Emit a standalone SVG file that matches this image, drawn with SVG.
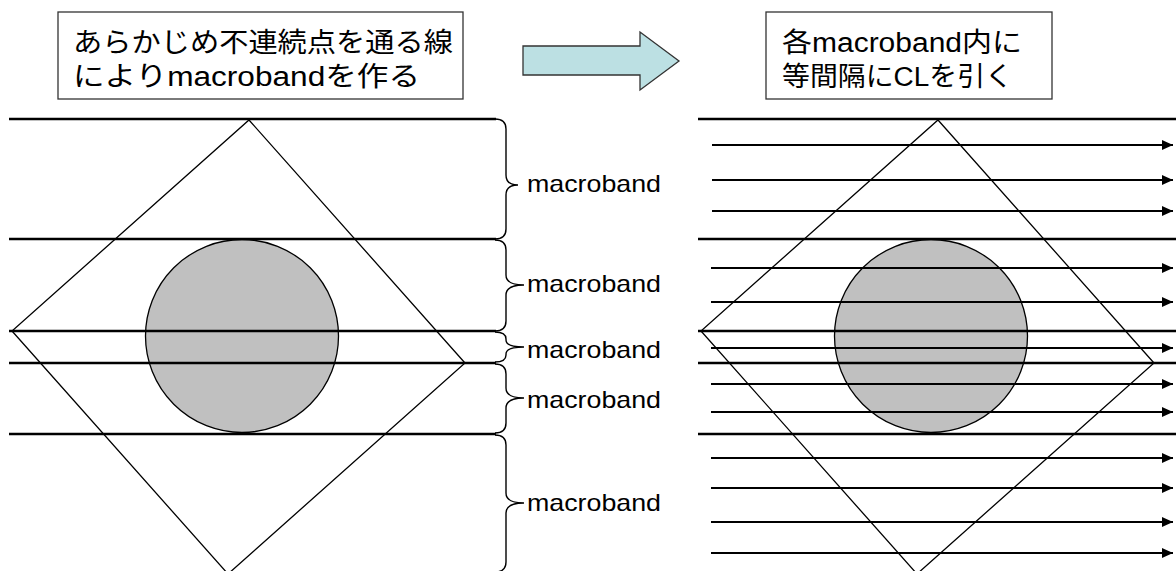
<svg xmlns="http://www.w3.org/2000/svg" width="1176" height="571" viewBox="0 0 1176 571">
<style>
.box{fill:#fff;stroke:#333;stroke-width:1.3}
.jp{font-family:"Liberation Sans","Noto Sans CJK JP",sans-serif;font-size:27px;fill:#000}
.lbl{font-family:"Liberation Sans",Arial,sans-serif;font-size:24px;fill:#000}
.band{stroke:#000;stroke-width:2.6;fill:none}
.dia{fill:none;stroke:#000;stroke-width:1.3}
.circ{fill:#c0c0c0;stroke:#000;stroke-width:1.3}
.brace{fill:none;stroke:#000;stroke-width:1.4}
.cl{stroke:#000;stroke-width:2;fill:none;marker-end:url(#ah)}
</style>
<defs>
<marker id="ah" markerUnits="userSpaceOnUse" markerWidth="12" markerHeight="12" refX="11" refY="5" orient="auto">
<path d="M0,0 L11,5 L0,10 Z" fill="#000"/>
</marker>
</defs>
<rect width="1176" height="571" fill="#fff"/>

<g id="box-left">
<rect class="box" x="58" y="12" width="405" height="87"/>
<text class="jp" x="73" y="52" textLength="380" lengthAdjust="spacingAndGlyphs">あらかじめ不連続点を通る線</text>
<text class="jp" x="73" y="86" textLength="347" lengthAdjust="spacingAndGlyphs">によりmacrobandを作る</text>
</g>

<g id="big-arrow">
<polygon points="523,46 640,46 640,32 679,61 640,90 640,75 523,75" fill="#bce0e3" stroke="#333" stroke-width="1.3"/>
</g>

<g id="box-right">
<rect class="box" x="766" y="12" width="286" height="87"/>
<text class="jp" x="782" y="52" textLength="240" lengthAdjust="spacingAndGlyphs">各macroband内に</text>
<text class="jp" x="782" y="86" textLength="231" lengthAdjust="spacingAndGlyphs">等間隔にCLを引く</text>
</g>

<g id="left-panel">
<circle class="circ" cx="242" cy="336" r="96.5"/>
<polygon class="dia" points="249,120 465,363 228,574 12,331"/>
<line class="band" x1="9" y1="119" x2="496" y2="119"/>
<line class="band" x1="9" y1="239" x2="496" y2="239"/>
<line class="band" x1="9" y1="331" x2="496" y2="331"/>
<line class="band" x1="9" y1="363" x2="496" y2="363"/>
<line class="band" x1="9" y1="434" x2="496" y2="434"/>
</g>

<g id="braces">
<path class="brace" d="M495,119 Q506,119 506,129 L506,175 Q506,185 518,185 Q506,185 506,195 L506,229 Q506,239 495,239"/>
<path class="brace" d="M495,240 Q506,240 506,250 L506,275 Q506,285 524,285 Q506,285 506,295 L506,321 Q506,331 495,331"/>
<path class="brace" d="M495,332 Q506,332 506,339 L506,340 Q506,347 524,347 Q506,347 506,354 L506,355 Q506,362 495,362"/>
<path class="brace" d="M495,364 Q506,364 506,374 L506,388 Q506,398 524,398 Q506,398 506,408 L506,423 Q506,433 495,433"/>
<path class="brace" d="M495,435 Q506,435 506,445 L506,493 Q506,503 524,503 Q506,503 506,513 L506,562 Q506,572 495,572"/>
</g>

<g id="labels">
<text class="lbl" x="527" y="192" textLength="134" lengthAdjust="spacingAndGlyphs">macroband</text>
<text class="lbl" x="527" y="292" textLength="134" lengthAdjust="spacingAndGlyphs">macroband</text>
<text class="lbl" x="527" y="358" textLength="134" lengthAdjust="spacingAndGlyphs">macroband</text>
<text class="lbl" x="527" y="408" textLength="134" lengthAdjust="spacingAndGlyphs">macroband</text>
<text class="lbl" x="527" y="511" textLength="134" lengthAdjust="spacingAndGlyphs">macroband</text>
</g>

<g id="right-panel">
<circle class="circ" cx="931" cy="336" r="96.5"/>
<polygon class="dia" points="938,120 1154,363 917,574 701,331"/>
<line class="band" x1="698" y1="119" x2="1176" y2="119"/>
<line class="band" x1="698" y1="239" x2="1176" y2="239"/>
<line class="band" x1="698" y1="331" x2="1176" y2="331"/>
<line class="band" x1="698" y1="363" x2="1176" y2="363"/>
<line class="band" x1="698" y1="434" x2="1176" y2="434"/>
</g>

<g id="connectors">
<line class="cl" x1="712" y1="145" x2="1173" y2="145"/>
<line class="cl" x1="712" y1="180" x2="1173" y2="180"/>
<line class="cl" x1="712" y1="211" x2="1173" y2="211"/>
<line class="cl" x1="711" y1="268" x2="1173" y2="268"/>
<line class="cl" x1="711" y1="302" x2="1173" y2="302"/>
<line class="cl" x1="711" y1="348" x2="1173" y2="348"/>
<line class="cl" x1="711" y1="384" x2="1173" y2="384"/>
<line class="cl" x1="711" y1="412" x2="1173" y2="412"/>
<line class="cl" x1="711" y1="458" x2="1173" y2="458"/>
<line class="cl" x1="711" y1="488" x2="1173" y2="488"/>
<line class="cl" x1="711" y1="522" x2="1173" y2="522"/>
<line class="cl" x1="711" y1="553" x2="1173" y2="553"/>
</g>
</svg>
